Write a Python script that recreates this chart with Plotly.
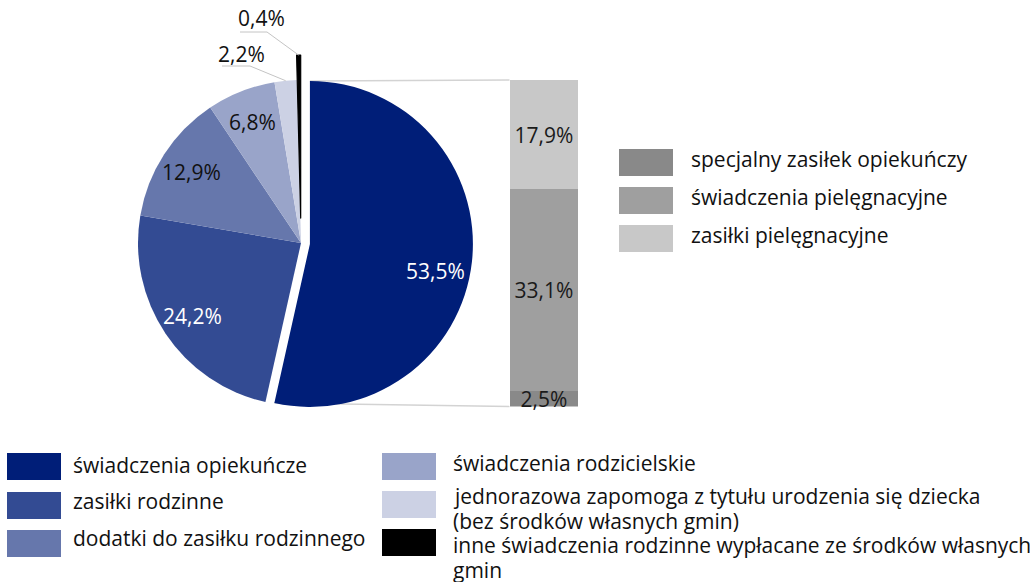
import math
import plotly.graph_objects as go

# ---------------- data ----------------
pie_labels = [
    "świadczenia opiekuńcze",
    "zasiłki rodzinne",
    "dodatki do zasiłku rodzinnego",
    "świadczenia rodzicielskie",
    "jednorazowa zapomoga z tytułu urodzenia się dziecka<br>(bez środków własnych gmin)",
    "inne świadczenia rodzinne wypłacane ze środków własnych<br>gmin",
]
pie_values = [53.5, 24.2, 12.9, 6.8, 2.2, 0.4]
pie_colors = ["#001E78", "#334B93", "#6677AC", "#99A4C9", "#CCD1E4", "#000000"]
pie_text_colors = ["#FFFFFF", "#FFFFFF", "#111111", "#111111", "#111111", "#111111"]
pie_pull = [0.055, 0, 0, 0, 0, 0.153]

bar_labels = ["specjalny zasiłek opiekuńczy", "świadczenia pielęgnacyjne", "zasiłki pielęgnacyjne"]
bar_values = [2.5, 33.1, 17.9]
bar_colors = ["#898989", "#9F9F9F", "#C8C8C8"]

# ---------------- layout constants (pixels) ----------------
W, H = 1030, 582
FONT = "Open Sans"
FS = 21
CX, CY, R = 301, 243, 163          # pie centre / radius
BAR_X0, BAR_X1, BAR_Y0, BAR_Y1 = 509.5, 578, 80, 406.5
LABEL_RAD = [0.79, 0.8, 0.8, 0.8]       # inside-label radius (fraction of R)
LABEL_ANG = [0.53, 0.5, 0.5, 0.5]       # inside-label angle (fraction of slice span)


def px(x):
    return x / W


def py(y):
    return 1 - y / H


def fmt(v):
    return f"{v:.1f}".replace(".", ",") + "%"


fig = go.Figure()

# ---------------- pie ----------------
half = R * (1 + max(pie_pull))
fig.add_trace(go.Pie(
    labels=pie_labels,
    values=pie_values,
    sort=False,
    direction="clockwise",
    rotation=0,
    pull=pie_pull,
    textinfo="none",
    hoverinfo="label+percent",
    marker=dict(colors=pie_colors,
                line=dict(color="#000000", width=[0, 0, 0, 0, 0, 1.2])),
    domain=dict(x=[px(CX - half), px(CX + half)], y=[py(CY + half), py(CY - half)]),
    showlegend=False,
))

# ---------------- stacked bar ----------------
for lab, val, col in zip(bar_labels, bar_values, bar_colors):
    fig.add_trace(go.Bar(
        x=[0], y=[val], name=lab, width=1,
        marker=dict(color=col, line=dict(width=0)),
        text=[fmt(val)], textposition="inside", insidetextanchor="middle",
        constraintext="none", textangle=0, cliponaxis=False,
        textfont=dict(family=FONT, size=FS, color="#1A1A1A"),
        showlegend=False,
    ))

total = sum(pie_values)
bar_total = sum(bar_values)

shapes = []
annotations = []


def pie_point(i, frac, rho):
    """point on slice i at fraction frac of its angular span, radius rho (pixels)"""
    start = sum(pie_values[:i]) / total * 360
    span = pie_values[i] / total * 360
    mid = math.radians(start + span / 2)
    th = math.radians(start + span * frac)
    ox = pie_pull[i] * R * math.sin(mid)
    oy = -pie_pull[i] * R * math.cos(mid)
    return CX + ox + rho * math.sin(th), CY + oy - rho * math.cos(th)


# inside labels
for i in range(4):
    x, y = pie_point(i, LABEL_ANG[i], LABEL_RAD[i] * R)
    annotations.append(dict(x=px(x), y=py(y), xref="paper", yref="paper", text=fmt(pie_values[i]),
                            showarrow=False, font=dict(family=FONT, size=FS, color=pie_text_colors[i]),
                            xanchor="center", yanchor="middle"))

# outside labels with leader lines (label centre x, y, leader y, leader x-range)
outer = {4: (241, 54, 66, 222, 250), 5: (261, 18, 32, 240, 267)}
for i, (lx, ly, lly, lxa, lxb) in outer.items():
    ex, ey = pie_point(i, 0.5, R)
    annotations.append(dict(x=px(lx), y=py(ly), xref="paper", yref="paper", text=fmt(pie_values[i]),
                            showarrow=False, font=dict(family=FONT, size=FS, color="#111111"),
                            xanchor="center", yanchor="middle"))
    shapes.append(dict(type="path", xref="paper", yref="paper",
                       path=f"M {px(lxa)} {py(lly)} L {px(lxb)} {py(lly)} L {px(ex)} {py(ey)}",
                       line=dict(color="#C4C4C4", width=1)))

# connecting lines pie -> bar
tx, ty = pie_point(0, 0.0, R)
bx, by = pie_point(0, 1.0, R)
shapes.append(dict(type="line", xref="paper", yref="paper", layer="below",
                   x0=px(tx), y0=py(ty), x1=px(BAR_X0), y1=py(BAR_Y0),
                   line=dict(color="#D3D3D3", width=1.5)))
shapes.append(dict(type="line", xref="paper", yref="paper", layer="below",
                   x0=px(bx), y0=py(by), x1=px(BAR_X0), y1=py(BAR_Y1),
                   line=dict(color="#D3D3D3", width=1.5)))

# ---------------- legends (drawn) ----------------
SW, SH = 54, 27
pie_leg_pos = [(7, 453), (7, 492), (7, 530), (382, 453), (382, 491), (382, 529)]
pie_text_x = [71, 71, 71, 451, 451, 451]
pie_text_y = [465, 501, 538, 463, 496, 545]
LINE = 25
for i, lab in enumerate(pie_labels):
    sx, sy = pie_leg_pos[i]
    shapes.append(dict(type="rect", xref="paper", yref="paper",
                       x0=px(sx), x1=px(sx + SW), y0=py(sy + SH), y1=py(sy),
                       fillcolor=pie_colors[i], line=dict(width=0)))
    for k, part in enumerate(lab.split("<br>")):
        annotations.append(dict(x=px(pie_text_x[i]), y=py(pie_text_y[i] + k * LINE),
                                xref="paper", yref="paper", text=part, showarrow=False,
                                font=dict(family=FONT, size=FS, color="#111111"),
                                xanchor="left", yanchor="middle"))

bar_leg_y = [149, 187, 225]
for i, lab in enumerate(bar_labels):
    sy = bar_leg_y[i]
    shapes.append(dict(type="rect", xref="paper", yref="paper",
                       x0=px(619), x1=px(619 + SW), y0=py(sy + SH), y1=py(sy),
                       fillcolor=bar_colors[i], line=dict(width=0)))
    annotations.append(dict(x=px(689), y=py(sy + 10), xref="paper", yref="paper", text=lab,
                            showarrow=False, font=dict(family=FONT, size=FS, color="#111111"),
                            xanchor="left", yanchor="middle"))

fig.update_layout(
    width=W, height=H,
    margin=dict(l=0, r=0, t=0, b=0),
    paper_bgcolor="white", plot_bgcolor="rgba(0,0,0,0)",
    barmode="stack", bargap=0,
    separators=", ",
    font=dict(family=FONT, size=FS, color="#111111"),
    xaxis=dict(domain=[px(BAR_X0), px(BAR_X1)], range=[-0.5, 0.5], visible=False, fixedrange=True),
    yaxis=dict(domain=[py(BAR_Y1), py(BAR_Y0)], range=[0, bar_total], visible=False, fixedrange=True),
    shapes=shapes,
    annotations=annotations,
    showlegend=False,
)

fig.write_html("out.html", config={"displayModeBar": False},
               post_script="document.body.style.margin='0';document.body.style.padding='0';")
